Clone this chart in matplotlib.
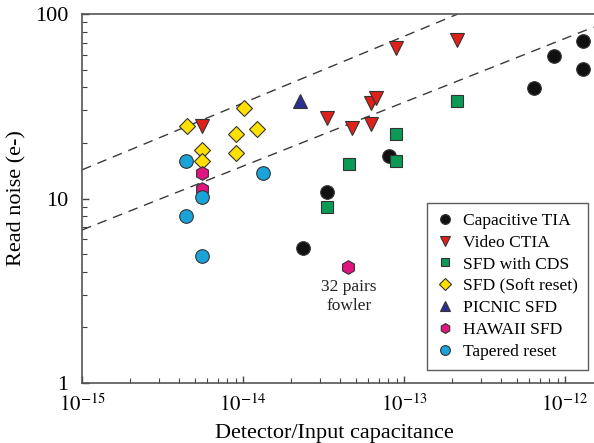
import numpy as np
import matplotlib
matplotlib.use('Agg')
import matplotlib.pyplot as plt
from matplotlib.ticker import LogLocator, FixedLocator, FixedFormatter

plt.rcParams['font.family'] = ['Liberation Serif', 'DejaVu Serif']
plt.rcParams['mathtext.fontset'] = 'stix'

# data (capacitance in F, read noise in e-)
tia_x = [2.37e-14, 3.31e-14, 8.1e-14, 6.45e-13, 8.58e-13, 1.30e-12, 1.30e-12]
tia_y = [5.42, 10.9, 17.0, 39.6, 59.2, 71.7, 50.1]

ctia_x = [5.54e-15, 3.31e-14, 4.73e-14, 6.21e-14, 6.21e-14, 6.70e-14, 8.88e-14, 2.13e-13]
ctia_y = [24.7, 27.4, 24.2, 25.3, 33.0, 35.2, 65.2, 72.3]

cds_x = [3.31e-14, 4.56e-14, 8.88e-14, 8.88e-14, 2.13e-13]
cds_y = [8.96, 15.3, 16.0, 22.4, 33.9]

soft_x = [4.47e-15, 1.02e-14, 9.01e-15, 1.23e-14, 5.54e-15, 9.01e-15, 5.54e-15]
soft_y = [24.8, 30.8, 22.4, 23.7, 18.3, 17.6, 16.0]

picnic_x = [2.26e-14]
picnic_y = [33.9]

hawaii_x = [5.54e-15, 5.54e-15, 4.47e-14]
hawaii_y = [13.7, 11.3, 4.25]

taper_x = [4.43e-15, 5.54e-15, 1.34e-14, 4.43e-15, 5.54e-15]
taper_y = [16.0, 10.2, 13.7, 8.07, 4.88]

# dashed guide lines (end points)
upper_x = [1e-15, 2.16e-13]
upper_y = [14.3, 100]
lower_x = [1e-15, 1.51e-12]
lower_y = [6.75, 85]

series = [
    ('Capacitive TIA', tia_x, tia_y, 'o', '#111111', 9.8),
    ('Video CTIA', ctia_x, ctia_y, 'v', '#e0201b', 9.8),
    ('SFD with CDS', cds_x, cds_y, 's', '#0a9a55', 8.2),
    ('SFD (Soft reset)', soft_x, soft_y, 'D', '#ffe000', 7.8),
    ('PICNIC SFD', picnic_x, picnic_y, '^', '#2b2f8f', 9.8),
    ('HAWAII SFD', hawaii_x, hawaii_y, 'h', '#e0157f', 9.8),
    ('Tapered reset', taper_x, taper_y, 'o', '#1aa3d8', 9.8),
]

fig = plt.figure(figsize=(5.94, 4.43), dpi=100)
ax = fig.add_axes([82 / 594, 60 / 443, 515.2 / 594, 369 / 443])

ax.plot(upper_x, upper_y, linestyle=(0, (7, 5)), color='#3a3a3a', lw=1.0, zorder=1)
ax.plot(lower_x, lower_y, linestyle=(0, (7, 5)), color='#3a3a3a', lw=1.0, zorder=1)

for name, xs, ys, mk, col, ms in series:
    ax.plot(xs, ys, linestyle='none', marker=mk, color=col, markersize=ms,
            markeredgecolor='#333333', markeredgewidth=0.8, label=name, zorder=3)

ax.text(4.56e-14, 2.96, '32 pairs\nfowler', ha='center', va='center',
        fontsize=12.5, color='#222222', linespacing=1.25)

ax.set_xscale('log')
ax.set_yscale('log')
ax.set_xlim(1e-15, 10 ** -11.8)
ax.set_ylim(1, 100)

ax.yaxis.set_major_locator(FixedLocator([1, 10, 100]))
ax.yaxis.set_major_formatter(FixedFormatter(['1', '10', '100']))
ax.yaxis.set_minor_locator(LogLocator(base=10, subs=np.arange(2, 10)))
ax.xaxis.set_major_locator(FixedLocator([1e-15, 1e-14, 1e-13, 1e-12]))
ax.xaxis.set_major_formatter(FixedFormatter([r'$10^{-15}$', r'$10^{-14}$',
                                             r'$10^{-13}$', r'$10^{-12}$']))
ax.xaxis.set_minor_locator(LogLocator(base=10, subs=np.arange(2, 10)))

ax.tick_params(which='both', direction='in', top=False, right=False,
               color='#444444')
ax.tick_params(axis='x', which='both', pad=8, labelsize=15)
ax.tick_params(axis='y', which='both', pad=10, labelsize=16)
ax.tick_params(which='major', length=5, width=1)
ax.tick_params(which='minor', length=3.5, width=0.8)

for sp in ax.spines.values():
    sp.set_color('#555555')
    sp.set_linewidth(1.2)

ax.set_xlabel('Detector/Input capacitance', fontsize=16)
ax.set_ylabel('Read noise (e-)', fontsize=16)
ax.xaxis.set_label_coords(0.489, -0.11)
ax.yaxis.set_label_coords(-0.108, 0.5)

leg = ax.legend(loc='upper left', bbox_to_anchor=(0.670, 0.488), fontsize=12.6,
                frameon=True, fancybox=False, edgecolor='#333333',
                borderaxespad=0, handlelength=0.9, handletextpad=0.6,
                borderpad=0.55, labelspacing=0.32, markerscale=0.72)
leg.get_frame().set_linewidth(1.0)

fig.savefig('out.png', dpi=100)
